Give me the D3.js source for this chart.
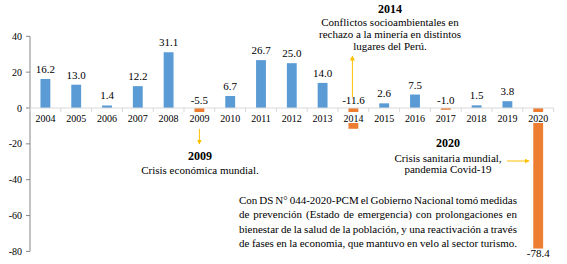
<!DOCTYPE html>
<html>
<head>
<meta charset="utf-8">
<script src="https://cdn.jsdelivr.net/npm/d3@7"></script>
<style>
  body { margin: 0; background: #fff; }
</style>
</head>
<body>
<div id="chart"></div>
<script>
var years = ['2004', '2005', '2006', '2007', '2008', '2009', '2010', '2011', '2012',
	'2013', '2014', '2015', '2016', '2017', '2018', '2019', '2020'];
var values = [16.2, 13.0, 1.4, 12.2, 31.1, -5.5, 6.7, 26.7, 25.0, 14.0, -11.6,
	2.6, 7.5, -1.0, 1.5, 3.8, -78.4];
var yTicks = [40, 20, 0, -20, -40, -60, -80];

var note2009 = ['Crisis económica mundial.'];
var note2014 = ['Conflictos socioambientales en', 'rechazo a la minería en distintos', 'lugares del Perú.'];
var note2020 = ['Crisis sanitaria mundial,', 'pandemia Covid-19'];
var noteCovid = [
	'Con DS N° 044-2020-PCM el Gobierno Nacional tomó medidas',
	'de prevención (Estado de emergencia) con prolongaciones en',
	'bienestar de la salud de la población, y una reactivación a través',
	'de fases en la economia, que mantuvo en velo al sector turismo.'
];

var W = 567, H = 264;
var blue = '#5B9BD5', orange = '#ED7D31', gold = '#FFC000', axisCol = '#868686';
var serif = "'Liberation Serif', 'Times New Roman', 'DejaVu Serif', serif";

var svg = d3.select('#chart').append('svg')
	.attr('width', W).attr('height', H)
	.attr('font-family', serif)
	.style('font-family', serif);

var x = d3.scaleBand()
	.domain(years)
	.range([30, 553.6])
	.paddingInner(0.68)
	.paddingOuter(0.34);

var y = d3.scaleLinear()
	.domain([-80, 40])
	.range([251.4, 36.3]);

var data = years.map(function (d, i) { return {year: d, value: values[i]}; });

// barras
svg.append('g').selectAll('rect')
	.data(data).enter().append('rect')
	.attr('x', function (d) { return x(d.year); })
	.attr('width', x.bandwidth())
	.attr('y', function (d) { return y(Math.max(0, d.value)); })
	.attr('height', function (d) { return Math.abs(y(d.value) - y(0)); })
	.attr('fill', function (d) { return d.value < 0 ? orange : blue; });

// eje y
var yAxis = svg.append('g');
yAxis.append('line')
	.attr('x1', 30).attr('x2', 30)
	.attr('y1', y(40)).attr('y2', y(-80))
	.attr('stroke', axisCol);
yAxis.selectAll('.tk').data(yTicks).enter().append('line')
	.attr('x1', 26).attr('x2', 30)
	.attr('y1', function (d) { return y(d); })
	.attr('y2', function (d) { return y(d); })
	.attr('stroke', axisCol);
yAxis.selectAll('text').data(yTicks).enter().append('text')
	.attr('x', 22)
	.attr('y', function (d) { return y(d); })
	.attr('dy', '0.35em')
	.attr('text-anchor', 'end')
	.attr('font-size', 10)
	.text(function (d) { return d; });

// eje x
var xAxis = svg.append('g');
xAxis.append('line')
	.attr('x1', 30).attr('x2', 553.6)
	.attr('y1', y(0)).attr('y2', y(0))
	.attr('stroke', '#d9d9d9');
var step = x.step();
xAxis.selectAll('.tk').data(d3.range(years.length + 1)).enter().append('line')
	.attr('x1', function (i) { return 30 + i * step; })
	.attr('x2', function (i) { return 30 + i * step; })
	.attr('y1', y(0)).attr('y2', y(0) + 4)
	.attr('stroke', '#d9d9d9');
xAxis.selectAll('rect').data(years).enter().append('rect')
	.attr('x', function (d) { return x(d) + x.bandwidth() / 2 - 12; })
	.attr('y', y(0) + 4)
	.attr('width', 24).attr('height', 11)
	.attr('fill', '#fff');
xAxis.selectAll('text').data(years).enter().append('text')
	.attr('x', function (d) { return x(d) + x.bandwidth() / 2; })
	.attr('y', y(0) + 10)
	.attr('dy', '0.35em')
	.attr('text-anchor', 'middle')
	.attr('font-size', 10)
	.text(function (d) { return d; });

// etiquetas de valores
svg.append('g').selectAll('text')
	.data(data).enter().append('text')
	.attr('x', function (d) { return x(d.year) + x.bandwidth() / 2; })
	.attr('y', function (d) {
		if (d.value >= 0) return y(d.value) - 6;
		if (d.value < -50) return y(d.value) + 8;
		return y(0) - 4;
	})
	.attr('text-anchor', 'middle')
	.attr('font-size', 11)
	.text(function (d) { return d.value.toFixed(1); });

// flechas
var defs = svg.append('defs');
defs.append('marker')
	.attr('id', 'arrow')
	.attr('viewBox', '0 0 10 10')
	.attr('refX', 9).attr('refY', 5)
	.attr('markerWidth', 5).attr('markerHeight', 5)
	.attr('orient', 'auto')
	.append('path')
	.attr('d', 'M0,0L10,5L0,10Z')
	.attr('fill', gold);

function arrow(x1, y1, x2, y2) {
	svg.append('line')
		.attr('x1', x1).attr('y1', y1)
		.attr('x2', x2).attr('y2', y2)
		.attr('stroke', gold)
		.attr('stroke-width', 1)
		.attr('marker-end', 'url(#arrow)');
}

var cx2009 = x('2009') + x.bandwidth() / 2;
var cx2014 = x('2014') + x.bandwidth() / 2;
arrow(cx2009, 129, cx2009, 144);
arrow(cx2014 - 1, 97, cx2014 - 1, 56);
arrow(507, 161, 529, 161);

function note(cx, yTitle, title, lines, y0, lh) {
	var g = svg.append('g').attr('font-size', 11).attr('text-anchor', 'middle');
	g.append('text')
		.attr('x', cx).attr('y', yTitle)
		.attr('font-weight', 'bold')
		.attr('font-size', 12)
		.text(title);
	lines.forEach(function (t, i) {
		g.append('text')
			.attr('x', cx).attr('y', y0 + i * lh)
			.text(t);
	});
}

note(200, 160, '2009', note2009, 174, 12);
note(390, 13, '2014', note2014, 26, 12);
note(448, 147, '2020', note2020, 161.5, 11);

// párrafo justificado
var px0 = 239, px1 = 517;
var para = svg.append('g').attr('font-size', 11);
noteCovid.forEach(function (line, i) {
	var words = line.split(' ');
	var widths = words.map(function (w) {
		var t = para.append('text').text(w);
		var len = t.node().getComputedTextLength();
		t.remove();
		return len;
	});
	var total = d3.sum(widths);
	var gap = (px1 - px0 - total) / (words.length - 1);
	var cur = px0;
	words.forEach(function (w, j) {
		para.append('text')
			.attr('x', cur)
			.attr('y', 204 + i * 14.3)
			.text(w);
		cur += widths[j] + gap;
	});
});
</script>
</body>
</html>
